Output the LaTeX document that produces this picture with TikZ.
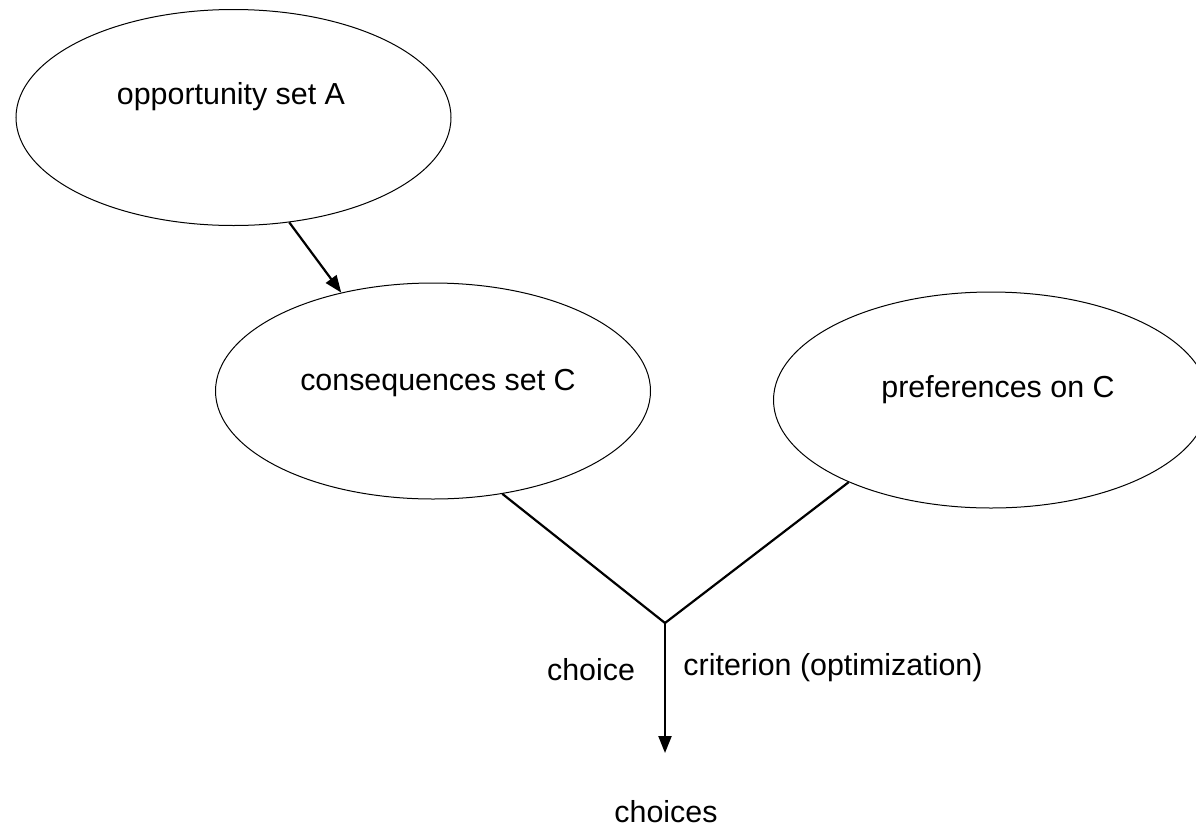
\documentclass[tikz,border=0pt]{standalone}
\usepackage{fontspec}
\setmainfont{Liberation Sans}
\usetikzlibrary{shapes.geometric,arrows.meta}
\tikzset{
  oval/.style={ellipse, draw, line width=1pt, minimum width=435pt, minimum height=216pt, inner sep=0pt},
  lbl/.style={inner sep=0pt, font=\fontsize{30.4}{36}\selectfont},
  conn/.style={line width=2.2pt},
  arr/.style={conn, -{Triangle[length=17pt,width=13pt]}}
}
\begin{document}
\begin{tikzpicture}[x=1pt,y=-1pt]
\path[use as bounding box, clip] (0,0) rectangle (1196,828);
\node[oval] (A) at (233.5,117.5) {};
\node[oval] (C) at (433,391) {};
\node[oval] (P) at (991,400) {};
\node[lbl] (tA) at (231,97) {opportunity set A};
\node[lbl] (tC) at (438,383) {consequences set C};
\node[lbl] (tP) at (998,390) {preferences on C};
\coordinate (J) at (665,623);
\coordinate (T) at (665,753);
\draw[arr] (A.-62.7) -- (C.133.8);
\draw[conn] (C.-56) -- (J);
\draw[conn] (P.210.8) -- (J);
\draw[arr] (J) -- (T);
\node[lbl] (ch) at (591,670) {choice};
\node[lbl] (cr) at (833,668) {criterion (optimization)};
\node[lbl] (chs) at (666,812) {choices};
\end{tikzpicture}
\end{document}
